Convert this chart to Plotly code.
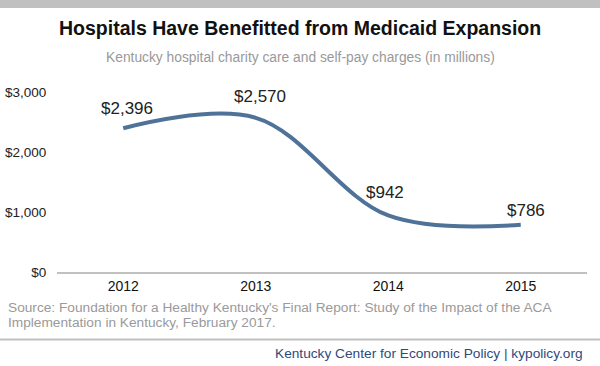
import plotly.graph_objects as go

years = ["2012", "2013", "2014", "2015"]
charges = [2396, 2570, 942, 786]
labels = ["$2,396", "$2,570", "$942", "$786"]
y_ticks = [0, 1000, 2000, 3000]
y_tick_text = ["$0", "$1,000", "$2,000", "$3,000"]

W, H = 600, 366
L, R, T, B = 57, 13, 92, 94
PW, PH = W - L - R, H - T - B

def px(x):
    return (x - L) / PW

def py(y):
    return (H - B - y) / PH

FONT = "Liberation Sans, Arial, sans-serif"

fig = go.Figure()
fig.add_trace(go.Scatter(
    x=list(range(len(years))), y=charges, mode="lines",
    line=dict(color="#4f7398", width=4, shape="spline", smoothing=1.0),
    hoverinfo="skip", showlegend=False, cliponaxis=False,
))

yshifts = [20, 21, 23, 14]
xshifts = [4, 4, -3, 5]
for i, (v, t) in enumerate(zip(charges, labels)):
    fig.add_annotation(x=i, y=v, text=t, showarrow=False, yshift=yshifts[i], xshift=xshifts[i],
                       yanchor="middle", font=dict(size=17, color="#222222", family=FONT))

# title & subtitle
fig.add_annotation(xref="paper", yref="paper", x=px(300), y=py(28), text="<b>Hospitals Have Benefitted from Medicaid Expansion</b>",
                   showarrow=False, xanchor="center", yanchor="middle", font=dict(size=19.5, color="#111111", family=FONT))
fig.add_annotation(xref="paper", yref="paper", x=px(300), y=py(57), text="Kentucky hospital charity care and self-pay charges (in millions)",
                   showarrow=False, xanchor="center", yanchor="middle", font=dict(size=13.8, color="#999999", family=FONT))
# source
fig.add_annotation(xref="paper", yref="paper", x=px(6), y=py(307), align="left",
                   text="Source: Foundation for a Healthy Kentucky's Final Report: Study of the Impact of the ACA",
                   showarrow=False, xanchor="left", yanchor="middle", font=dict(size=13.7, color="#9a9a9a", family=FONT))
fig.add_annotation(xref="paper", yref="paper", x=px(6), y=py(322), align="left",
                   text="Implementation in Kentucky, February 2017.",
                   showarrow=False, xanchor="left", yanchor="middle", font=dict(size=13.7, color="#9a9a9a", family=FONT))
# footer
fig.add_annotation(xref="paper", yref="paper", x=px(585), y=py(353), text="Kentucky Center for Economic Policy | kypolicy.org",
                   showarrow=False, xanchor="right", yanchor="middle", font=dict(size=13.7, color="#2f4a7c", family=FONT))

# top bar and separator
fig.add_shape(type="rect", xref="paper", yref="paper", x0=px(0), x1=px(600), y0=py(0), y1=py(8),
              fillcolor="#c0c0c0", line=dict(width=0), layer="below")
fig.add_shape(type="line", xref="paper", yref="paper", x0=px(0), x1=px(600), y0=py(339.5), y1=py(339.5),
              line=dict(color="#c0c0c0", width=2))

fig.update_xaxes(range=[-0.5, 3.5], tickvals=list(range(len(years))), ticktext=years, automargin=False,
                 showgrid=False, zeroline=False, showline=True, linecolor="#c0c0c0", linewidth=2,
                 ticks="", tickfont=dict(size=14, color="#111111", family=FONT))
fig.update_yaxes(range=[0, 3000], tickvals=y_ticks, ticktext=y_tick_text, showgrid=False, zeroline=False,
                 automargin=False, showline=False, ticks="outside", ticklen=7, tickcolor="rgba(0,0,0,0)",
                 tickfont=dict(size=13.5, color="#222222", family=FONT))

fig.update_layout(width=W, height=H, margin=dict(l=L, r=R, t=T, b=B), template="none",
                  paper_bgcolor="white", plot_bgcolor="white", font=dict(family=FONT))

fig.write_html("out.html", config={"displayModeBar": False},
               post_script="document.body.style.margin='0';")
